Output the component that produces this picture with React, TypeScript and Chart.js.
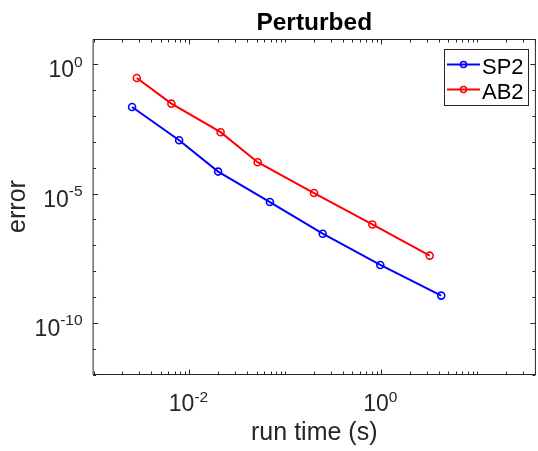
import React, { useEffect, useRef } from "react";
import { Chart, registerables } from "chart.js";

Chart.register(...registerables);

// ---- data ----
const seriesNames = ["SP2", "AB2"];
const seriesColors = ["#0000FF", "#FF0000"];
const sp2Time = [2.52e-3, 7.8e-3, 0.0199, 0.069, 0.245, 0.977, 4.22];
const sp2Error = [2.24e-2, 1.16e-3, 7.1e-5, 4.7e-6, 2.8e-7, 1.73e-8, 1.13e-9];
const ab2Time = [2.82e-3, 6.48e-3, 0.0211, 0.0514, 0.199, 0.807, 3.2];
const ab2Error = [0.296, 0.0301, 2.37e-3, 1.64e-4, 1.05e-5, 6.4e-7, 3.96e-8];

const xRange = [1e-3, 40];
const yRange = [1e-12, 10];
const xMajorExps = [-2, 0];
const yMajorExps = [0, -5, -10];
const titleText = "Perturbed";
const xLabelText = "run time (s)";
const yLabelText = "error";

// ---- style ----
const W = 540;
const H = 451;
const FAMILY = '"Liberation Sans", Helvetica, Arial, sans-serif';
const AXIS = "#262626";
const TICK_FONT = 23;
const SUP_FONT = 15.5;
const LABEL_FONT = 25;
const TITLE_FONT = 24.5;
const LEGEND_FONT = 22;

function drawPow(ctx: CanvasRenderingContext2D, exp: number, x: number, baseY: number, align: "right" | "center", rise: number) {
  const base = "10";
  const sup = String(exp);
  ctx.font = `${TICK_FONT}px ${FAMILY}`;
  const bw = ctx.measureText(base).width;
  ctx.font = `${SUP_FONT}px ${FAMILY}`;
  const sw = ctx.measureText(sup).width;
  const total = bw + sw;
  const x0 = align === "right" ? x - total : x - total / 2;
  ctx.textAlign = "left";
  ctx.textBaseline = "alphabetic";
  ctx.font = `${TICK_FONT}px ${FAMILY}`;
  ctx.fillText(base, x0, baseY);
  ctx.font = `${SUP_FONT}px ${FAMILY}`;
  ctx.fillText(sup, x0 + bw, baseY - rise);
}

const axesPlugin = {
  id: "matlabAxes",
  afterDatasetsDraw(chart: any) {
    const { ctx, chartArea: a, scales } = chart;
    const xs = scales.x;
    const ys = scales.y;
    ctx.save();
    ctx.strokeStyle = AXIS;
    ctx.fillStyle = AXIS;
    ctx.lineWidth = 1;

    const L = a.left - 0.5;
    const R = a.right + 0.5;
    const T = Math.round(a.top) + 0.5;
    const B = Math.round(a.bottom) - 0.5;

    ctx.beginPath();
    ctx.moveTo(L, T);
    ctx.lineTo(R, T);
    ctx.lineTo(R, B);
    ctx.lineTo(L, B);
    ctx.closePath();
    ctx.stroke();

    // x ticks
    const xMinExp = Math.floor(Math.log10(xRange[0]));
    const xMaxExp = Math.ceil(Math.log10(xRange[1]));
    ctx.beginPath();
    for (let d = xMinExp; d <= xMaxExp; d++) {
      for (let k = 1; k <= 9; k++) {
        const v = k * Math.pow(10, d);
        if (v < xRange[0] * 0.999 || v > xRange[1] * 1.001) continue;
        const px = Math.round(xs.getPixelForValue(v)) + 0.5;
        const major = k === 1 && xMajorExps.includes(d);
        const len = major ? 5 : 3;
        ctx.moveTo(px, B);
        ctx.lineTo(px, B - len);
        ctx.moveTo(px, T);
        ctx.lineTo(px, T + len);
      }
    }
    // y ticks
    const yMinExp = Math.round(Math.log10(yRange[0]));
    const yMaxExp = Math.round(Math.log10(yRange[1]));
    for (let d = yMinExp; d <= yMaxExp; d++) {
      const v = Math.pow(10, d);
      const py = Math.round(ys.getPixelForValue(v)) + 0.5;
      const major = yMajorExps.includes(d);
      const len = major ? 5 : 3;
      ctx.moveTo(L, py);
      ctx.lineTo(L + len, py);
      ctx.moveTo(R, py);
      ctx.lineTo(R - len, py);
    }
    ctx.stroke();

    // tick labels
    for (const e of yMajorExps) {
      const py = ys.getPixelForValue(Math.pow(10, e));
      drawPow(ctx, e, a.left - 11, py + 13, "right", 10.5);
    }
    for (const e of xMajorExps) {
      const px = xs.getPixelForValue(Math.pow(10, e));
      drawPow(ctx, e, px - 1, 411, "center", 9.5);
    }

    // axis labels
    ctx.textAlign = "center";
    ctx.textBaseline = "alphabetic";
    ctx.font = `${LABEL_FONT}px ${FAMILY}`;
    ctx.fillText(xLabelText, (a.left + a.right) / 2, 440);
    ctx.save();
    ctx.translate(25, (a.top + a.bottom) / 2);
    ctx.rotate(-Math.PI / 2);
    ctx.fillText(yLabelText, 0, 0);
    ctx.restore();

    // title
    ctx.fillStyle = "#000000";
    ctx.font = `bold ${TITLE_FONT}px ${FAMILY}`;
    ctx.fillText(titleText, (a.left + a.right) / 2, 29.5);

    // legend
    const bx = 444.5, by = 49.5, bw = 84, bh = 56;
    ctx.fillStyle = "#FFFFFF";
    ctx.fillRect(bx, by, bw, bh);
    ctx.strokeStyle = AXIS;
    ctx.lineWidth = 1;
    ctx.strokeRect(bx, by, bw, bh);
    const rows = [64.5, 89.5];
    chart.data.datasets.forEach((ds: any, i: number) => {
      const y = rows[i];
      ctx.strokeStyle = ds.borderColor;
      ctx.lineWidth = 2;
      ctx.beginPath();
      ctx.moveTo(447, y);
      ctx.lineTo(480, y);
      ctx.stroke();
      ctx.lineWidth = 1.5;
      ctx.beginPath();
      ctx.arc(463.5, y, 3, 0, Math.PI * 2);
      ctx.stroke();
      ctx.fillStyle = "#000000";
      ctx.textAlign = "left";
      ctx.font = `${LEGEND_FONT}px ${FAMILY}`;
      ctx.fillText(ds.label, 482, y + 9);
    });

    ctx.restore();
  },
};

export default function App() {
  const ref = useRef<HTMLCanvasElement | null>(null);

  useEffect(() => {
    document.documentElement.style.overflow = "hidden";
    document.body.style.overflow = "hidden";
    const canvas = ref.current;
    if (!canvas) return;
    const times = [sp2Time, ab2Time];
    const errors = [sp2Error, ab2Error];
    const chart = new Chart(canvas, {
      type: "line",
      data: {
        datasets: seriesNames.map((name, i) => ({
          label: name,
          data: times[i].map((t, j) => ({ x: t, y: errors[i][j] })),
          borderColor: seriesColors[i],
          backgroundColor: "rgba(0,0,0,0)",
          pointBackgroundColor: "rgba(0,0,0,0)",
          pointBorderColor: seriesColors[i],
          pointRadius: 3.5,
          pointBorderWidth: 1.6,
          pointHoverRadius: 3.5,
          borderWidth: 2,
          tension: 0,
          fill: false,
        })),
      },
      options: {
        animation: false,
        responsive: false,
        devicePixelRatio: 1,
        events: [],
        layout: { padding: { left: 93.6, right: 0.8, top: 38.5, bottom: 76.5 } },
        plugins: {
          legend: { display: false },
          title: { display: false },
          tooltip: { enabled: false },
        },
        scales: {
          x: { type: "logarithmic", min: xRange[0], max: xRange[1], display: false },
          y: { type: "logarithmic", min: yRange[0], max: yRange[1], display: false },
        },
      },
      plugins: [axesPlugin],
    });
    return () => chart.destroy();
  }, []);

  return (
    <div style={{ position: "fixed", left: 0, top: 0, width: W, height: H, background: "#fff" }}>
      <canvas ref={ref} width={W} height={H} style={{ display: "block", width: W, height: H }} />
    </div>
  );
}
